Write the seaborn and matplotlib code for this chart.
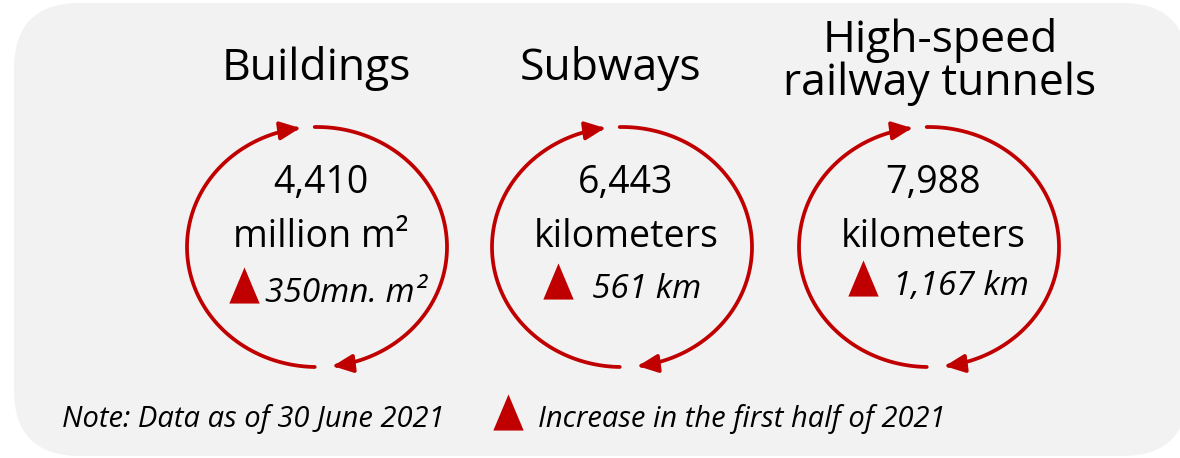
import numpy as np
import pandas as pd
import seaborn as sns
import matplotlib
matplotlib.use("Agg")
import matplotlib.pyplot as plt
from matplotlib.patches import FancyBboxPatch, FancyArrowPatch
from matplotlib.path import Path

# ----------------------------------------------------------------------------
# data
titles = ["Buildings", "Subways", "High-speed\nrailway tunnels"]
totals = ["4,410", "6,443", "7,988"]
units = ["million m²", "kilometers", "kilometers"]
increases = ["350mn. m²", "561 km", "1,167 km"]
note = "Note: Data as of 30 June 2021"
legend_label = "Increase in the first half of 2021"

# ----------------------------------------------------------------------------
# layout (pixel coordinates, y downwards)
cx = [317, 622, 929]
cy = 247
rx, ry = 130, 120
title_x = [316, 610, 940]
title_base = [80, 80, 95]
tri_x = [244, 558, 863]
inc_x = [265, 592, 893]
inc_base = [302, 298, 295]
RED = "#c00000"

sns.set_theme(style="white")
plt.rcParams["font.family"] = ["Open Sans", "DejaVu Sans"]

fig = plt.figure(figsize=(11.8, 4.58), dpi=100)
ax = fig.add_axes([0, 0, 1, 1])
ax.set_xlim(0, 1180)
ax.set_ylim(458, 0)
ax.axis("off")

# background card
ax.add_patch(FancyBboxPatch((14, 3), 1174, 453,
                            boxstyle="round,pad=0,rounding_size=66",
                            fc="#f2f2f2", ec="none", zorder=0))


def arc(x0, a0, a1):
    t = np.radians(np.linspace(a0, a1, 120))
    pts = np.column_stack([x0 + rx * np.cos(t), cy - ry * np.sin(t)])
    codes = [Path.MOVETO] + [Path.LINETO] * (len(pts) - 1)
    return FancyArrowPatch(path=Path(pts, codes),
                           arrowstyle="-|>,head_length=1.2,head_width=0.55",
                           mutation_scale=10, color=RED, lw=2.7,
                           shrinkA=0, shrinkB=0, zorder=2)


for i in range(3):
    # two clockwise arcs with arrowheads
    ax.add_patch(arc(cx[i], 91, -83))
    ax.add_patch(arc(cx[i], 269, 97.5))

    lines = titles[i].split("\n")
    for k, line in enumerate(reversed(lines)):
        ax.text(title_x[i], title_base[i] - 43 * k, line, ha="center",
                va="baseline", fontsize=32, color="black")

    ax.text(cx[i] + 4, 193, totals[i], ha="center", va="baseline",
            fontsize=27, color="black")
    ax.text(cx[i] + 4, 247, units[i], ha="center", va="baseline",
            fontsize=27, color="black")
    ax.text(inc_x[i], inc_base[i], increases[i], ha="left", va="baseline",
            fontsize=24, style="italic", color="black")

# triangle markers
tri = pd.DataFrame({"x": tri_x + [508],
                    "y": [b - 17 for b in inc_base] + [412]})
sns.scatterplot(data=tri, x="x", y="y", ax=ax,
                marker=[(-0.84, -1), (0.84, -1), (0, 1)],
                s=26 ** 2, color=RED, linewidth=0, legend=False, zorder=3)
ax.set_xlabel("")
ax.set_ylabel("")
ax.set_xlim(0, 1180)
ax.set_ylim(458, 0)

# footer
ax.text(62, 427, note, ha="left", va="baseline", fontsize=21,
        style="italic", color="black")
ax.text(538, 427, legend_label, ha="left", va="baseline", fontsize=21,
        style="italic", color="black")

fig.savefig("out.png", dpi=100, facecolor="white")
